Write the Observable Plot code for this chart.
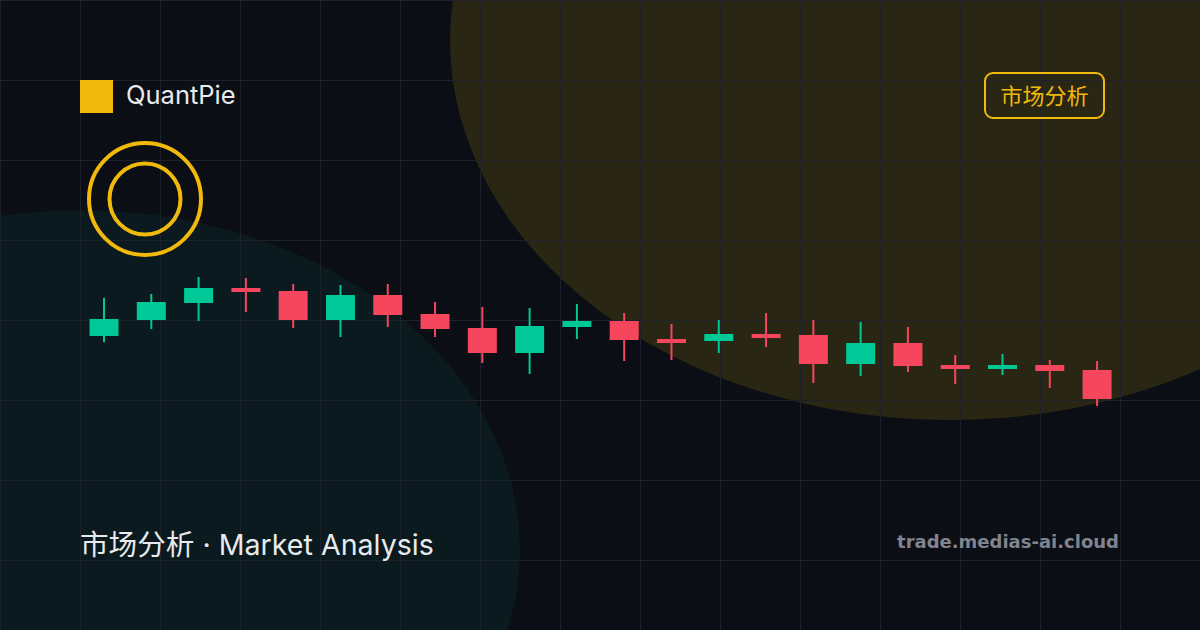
<!DOCTYPE html>
<html>
<head>
<meta charset="utf-8">
<script src="https://cdn.jsdelivr.net/npm/d3@7"></script>
<script src="https://cdn.jsdelivr.net/npm/@observablehq/plot@0.6"></script>
<style>
  html, body { margin: 0; padding: 0; background: #0b0e14; }
  #wrap { position: relative; width: 1200px; height: 630px; overflow: hidden; background: #0b0e14; }
  #wrap > svg, #wrap > div { position: absolute; left: 0; top: 0; }
  .txt { font-family: Inter, "Noto Sans CJK SC", sans-serif; }
</style>
</head>
<body>
<div id="wrap">
  <svg id="bg" width="1200" height="630">
    <ellipse cx="80" cy="550" rx="440" ry="340" fill="#0a1a1e"/>
    <ellipse cx="950" cy="40" rx="500" ry="380" fill="#2a2614"/>
    <g id="grid" stroke="#1d222a" stroke-width="1" shape-rendering="crispEdges"></g>
  </svg>
  <div id="chart"></div>
  <svg id="fg" width="1200" height="630">
    <rect x="80" y="80" width="33" height="33" fill="#f0b90b"/>
    <text class="txt" x="126" y="104" font-size="25.5" fill="#e8eaed">QuantPie</text>
    <circle cx="145" cy="199" r="56" fill="none" stroke="#f0b90b" stroke-width="4"/>
    <circle cx="145" cy="199" r="35.5" fill="none" stroke="#f0b90b" stroke-width="4"/>
    <rect x="985" y="73" width="119" height="45" rx="8" ry="8" fill="none" stroke="#f0b90b" stroke-width="2"/>
    <text class="txt" x="1044.5" y="103.5" font-size="22" fill="#f0b90b" text-anchor="middle">市场分析</text>
    <text class="txt" x="80" y="555" font-size="28.6" fill="#e8eaed">市场分析 · Market Analysis</text>
    <text x="1119" y="548" font-size="18" font-weight="bold" fill="#80848e" text-anchor="end" font-family="'DejaVu Sans', sans-serif">trade.medias-ai.cloud</text>
  </svg>
</div>
<script>
// ---- data ----
const session = [1,2,3,4,5,6,7,8,9,10,11,12,13,14,15,16,17,18,19,20,21,22];
const open  = [98.4,100.0,101.7,103.2,102.9,100.0,102.5,100.6, 99.2,96.7,99.3,99.9,98.1,97.9,98.6,98.5,95.6,97.7,95.5,95.1,95.5,95.0];
const high  = [102.2,102.6,104.3,104.2,103.6,103.5,103.6,101.8,101.3,101.2,101.6,100.7,99.6,100.0,100.7,100.0,99.8,99.3,96.5,96.6,96.0,95.9];
const low   = [97.8,99.1,99.9,100.8,99.2,98.3,99.3,98.3,95.7,94.6,98.1,95.9,96.0,96.7,97.3,93.7,94.4,94.8,93.6,94.5,93.2,91.4];
const close = [100.1,101.8,103.2,102.8,100.0,102.5,100.5,99.1,96.7,99.4,99.9,98.0,97.7,98.6,98.2,95.6,97.7,95.4,95.1,95.5,94.9,92.1];

const upColor = "#00c896", downColor = "#f6465d";
const candles = session.map((s, i) => ({
  i, session: s, open: open[i], high: high[i], low: low[i], close: close[i]
}));

// grid
const grid = document.getElementById("grid");
for (let x = 0; x <= 1200; x += 80) {
  const l = document.createElementNS("http://www.w3.org/2000/svg", "line");
  l.setAttribute("x1", x + 0.5); l.setAttribute("x2", x + 0.5);
  l.setAttribute("y1", 0); l.setAttribute("y2", 630);
  grid.appendChild(l);
}
for (let y = 0; y <= 630; y += 80) {
  const l = document.createElementNS("http://www.w3.org/2000/svg", "line");
  l.setAttribute("y1", y + 0.5); l.setAttribute("y2", y + 0.5);
  l.setAttribute("x1", 0); l.setAttribute("x2", 1200);
  grid.appendChild(l);
}

const col = d => d.close >= d.open ? upColor : downColor;
const chart = Plot.plot({
  width: 1200,
  height: 630,
  margin: 0,
  style: { background: "transparent", overflow: "visible" },
  x: { domain: [-2.189, 23.187], axis: null },
  y: { domain: [69, 132], axis: null },
  marks: [
    Plot.ruleX(candles, { x: "i", y1: "low", y2: "high", stroke: col, strokeWidth: 2 }),
    Plot.ruleX(candles, { x: "i", y1: "open", y2: "close", stroke: col, strokeWidth: 29, strokeLinecap: "butt" })
  ]
});
document.getElementById("chart").appendChild(chart);
</script>
</body>
</html>
